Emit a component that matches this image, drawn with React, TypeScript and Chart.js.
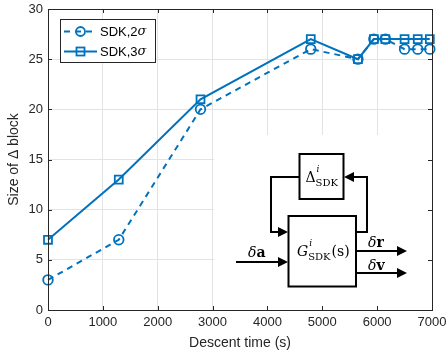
import { useEffect, useRef } from "react";
import { Chart, registerables } from "chart.js";

Chart.register(...registerables);

const descentTime = [0, 1290, 2780, 4790, 5650, 5940, 6150, 6500, 6740, 6960];
const size2Sigma = [3, 7, 20, 26, 25, 27, 27, 26, 26, 26];
const size3Sigma = [7, 13, 21, 27, 25, 27, 27, 27, 27, 27];
const xTicks = [0, 1000, 2000, 3000, 4000, 5000, 6000, 7000];
const yTicks = [0, 5, 10, 15, 20, 25, 30];
const seriesNames = ["SDK,2", "SDK,3"];

const BLUE = "#0072BD";
const AXIS = "#262626";
const SANS = "'Liberation Sans', Arial, Helvetica, sans-serif";
const SERIF = "'DejaVu Serif', 'Liberation Serif', serif";

type Piece = { t: string; f: string; dy?: number };

function rich(ctx: CanvasRenderingContext2D, x: number, y: number, pieces: Piece[]) {
  let cx = x;
  for (const p of pieces) {
    ctx.font = p.f;
    ctx.fillText(p.t, cx, y + (p.dy || 0));
    cx += ctx.measureText(p.t).width;
  }
  return cx;
}

function richWidth(ctx: CanvasRenderingContext2D, pieces: Piece[]) {
  let w = 0;
  for (const p of pieces) {
    ctx.font = p.f;
    w += ctx.measureText(p.t).width;
  }
  return w;
}

function arrow(ctx: CanvasRenderingContext2D, pts: number[][], len = 10, hw = 5) {
  const n = pts.length;
  const [tx, ty] = pts[n - 1];
  const [px, py] = pts[n - 2];
  const dx = tx - px, dy = ty - py;
  const d = Math.hypot(dx, dy);
  const ux = dx / d, uy = dy / d;
  const bx = tx - ux * len, by = ty - uy * len;
  ctx.beginPath();
  ctx.moveTo(pts[0][0], pts[0][1]);
  for (let i = 1; i < n - 1; i++) ctx.lineTo(pts[i][0], pts[i][1]);
  ctx.lineTo(bx, by);
  ctx.stroke();
  ctx.beginPath();
  ctx.moveTo(tx, ty);
  ctx.lineTo(bx - uy * hw, by + ux * hw);
  ctx.lineTo(bx + uy * hw, by - ux * hw);
  ctx.closePath();
  ctx.fill();
}

const framePlugin = {
  id: "frameAndInset",
  beforeDatasetsDraw(chart: any) {
    const { ctx, chartArea } = chart;
    ctx.save();
    ctx.fillStyle = "#ffffff";
    ctx.fillRect(214, 135, chartArea.right - 214, chartArea.bottom - 135);
    ctx.restore();
  },
  afterDraw(chart: any) {
    const { ctx, chartArea, scales } = chart;
    const { left, right, top, bottom } = chartArea;
    ctx.save();
    // frame
    ctx.strokeStyle = AXIS;
    ctx.lineWidth = 1;
    ctx.strokeRect(Math.round(left) + 0.5, Math.round(top) + 0.5, Math.round(right - left), Math.round(bottom - top));
    // inner ticks
    const tl = 4;
    ctx.beginPath();
    for (const v of xTicks) {
      const x = Math.round(scales.x.getPixelForValue(v)) + 0.5;
      ctx.moveTo(x, bottom);
      ctx.lineTo(x, bottom - tl);
      ctx.moveTo(x, top);
      ctx.lineTo(x, top + tl);
    }
    for (const v of yTicks) {
      const y = Math.round(scales.y.getPixelForValue(v)) + 0.5;
      ctx.moveTo(left, y);
      ctx.lineTo(left + tl, y);
      ctx.moveTo(right, y);
      ctx.lineTo(right - tl, y);
    }
    ctx.stroke();

    // legend
    const lx = 60.5, ly = 19.5, lw = 95, lh = 43;
    ctx.fillStyle = "#fff";
    ctx.fillRect(lx, ly, lw, lh);
    ctx.strokeStyle = AXIS;
    ctx.strokeRect(lx, ly, lw, lh);
    const rows = [31.5, 51.5];
    ctx.strokeStyle = BLUE;
    ctx.lineWidth = 2;
    ctx.setLineDash([6, 5]);
    ctx.beginPath();
    ctx.moveTo(64, rows[0]);
    ctx.lineTo(97, rows[0]);
    ctx.stroke();
    ctx.setLineDash([]);
    ctx.lineWidth = 1.8;
    ctx.beginPath();
    ctx.arc(80.5, rows[0], 4.5, 0, Math.PI * 2);
    ctx.stroke();
    ctx.lineWidth = 2;
    ctx.beginPath();
    ctx.moveTo(64, rows[1]);
    ctx.lineTo(97, rows[1]);
    ctx.stroke();
    ctx.lineWidth = 1.8;
    ctx.strokeRect(76.5, rows[1] - 4, 8, 8);
    ctx.fillStyle = "#000";
    ctx.textBaseline = "middle";
    ctx.textAlign = "left";
    for (let i = 0; i < 2; i++) {
      rich(ctx, 100, rows[i] + 0.5, [
        { t: seriesNames[i], f: `13px ${SANS}` },
        { t: "σ", f: `italic 13px ${SERIF}` },
      ]);
    }

    // block diagram inset
    ctx.strokeStyle = "#000";
    ctx.fillStyle = "#000";
    ctx.lineWidth = 2;
    ctx.strokeRect(299.5, 154, 44, 45);
    ctx.strokeRect(288.5, 216, 67.5, 70.5);
    arrow(ctx, [[299, 177], [271, 177], [271, 232], [288, 232]]);
    arrow(ctx, [[356, 232], [367, 232], [367, 177], [344, 177]]);
    arrow(ctx, [[236, 262], [288, 262]]);
    arrow(ctx, [[356, 251], [407, 251]]);
    arrow(ctx, [[356, 273], [407, 273]]);

    ctx.textBaseline = "alphabetic";
    const dPieces: Piece[] = [{ t: "Δ", f: `14px ${SERIF}` }];
    const wD = richWidth(ctx, dPieces);
    const dx0 = 321.5 - (wD + 22) / 2;
    rich(ctx, dx0, 182, dPieces);
    ctx.font = `italic 9px ${SERIF}`;
    ctx.fillText("i", dx0 + wD + 1, 172);
    ctx.font = `10px ${SERIF}`;
    ctx.fillText("SDK", dx0 + wD, 186);

    const gx0 = 297;
    ctx.font = `italic 14px ${SERIF}`;
    ctx.fillText("G", gx0, 256);
    const wG = ctx.measureText("G").width;
    ctx.font = `italic 9px ${SERIF}`;
    ctx.fillText("i", gx0 + wG + 1, 246);
    ctx.font = `10px ${SERIF}`;
    ctx.fillText("SDK", gx0 + wG, 260);
    const wS = ctx.measureText("SDK").width;
    ctx.font = `14px ${SERIF}`;
    ctx.fillText("(s)", gx0 + wG + wS + 1, 256);

    rich(ctx, 248, 257, [
      { t: "δ", f: `italic 14px ${SERIF}` },
      { t: "a", f: `bold 14px ${SERIF}` },
    ]);
    rich(ctx, 368, 247, [
      { t: "δ", f: `italic 14px ${SERIF}` },
      { t: "r", f: `bold 14px ${SERIF}` },
    ]);
    rich(ctx, 368, 270, [
      { t: "δ", f: `italic 14px ${SERIF}` },
      { t: "v", f: `bold 14px ${SERIF}` },
    ]);
    ctx.restore();
  },
};

export default function App() {
  const ref = useRef<HTMLCanvasElement>(null);
  useEffect(() => {
    document.body.style.margin = "0";
    const canvas = ref.current!;
    const chart = new Chart(canvas, {
      type: "line",
      data: {
        datasets: [
          {
            label: seriesNames[0] + "σ",
            data: descentTime.map((x, i) => ({ x, y: size2Sigma[i] })),
            borderColor: BLUE,
            borderWidth: 2,
            borderDash: [6, 5],
            pointStyle: "circle",
            pointRadius: 4.8,
            pointBorderWidth: 1.8,
            pointBorderColor: BLUE,
            pointBackgroundColor: "rgba(0,0,0,0)",
            tension: 0,
            clip: false as any,
          },
          {
            label: seriesNames[1] + "σ",
            data: descentTime.map((x, i) => ({ x, y: size3Sigma[i] })),
            borderColor: BLUE,
            borderWidth: 2,
            pointStyle: "rect",
            pointRadius: 5.6,
            pointBorderWidth: 1.8,
            pointBorderColor: BLUE,
            pointBackgroundColor: "rgba(0,0,0,0)",
            tension: 0,
            clip: false as any,
          },
        ],
      },
      options: {
        responsive: false,
        animation: false,
        events: [],
        layout: { padding: { top: 9, right: 15, left: 0, bottom: 0 } },
        plugins: { legend: { display: false }, tooltip: { enabled: false } },
        scales: {
          x: {
            type: "linear",
            min: 0,
            max: 7000,
            afterBuildTicks: (s: any) => {
              s.ticks = xTicks.map((v) => ({ value: v }));
            },
            afterFit: (s: any) => {
              s.height = 46;
              s.paddingLeft = 0;
              s.paddingRight = 0;
            },
            grid: { color: "#e3e3e3", lineWidth: 1, drawTicks: false },
            border: { display: true, color: AXIS, width: 1 },
            ticks: {
              color: AXIS,
              font: { family: SANS, size: 13 },
              padding: 5,
              maxRotation: 0,
              autoSkip: false,
              callback: (v: any) => String(v),
            },
            title: {
              display: true,
              text: "Descent time (s)",
              color: AXIS,
              font: { family: SANS, size: 14 },
              padding: { top: 0, bottom: 4 },
            },
          },
          y: {
            type: "linear",
            min: 0,
            max: 30,
            afterBuildTicks: (s: any) => {
              s.ticks = yTicks.map((v) => ({ value: v }));
            },
            afterFit: (s: any) => {
              s.width = 48;
              s.paddingTop = 0;
              s.paddingBottom = 0;
            },
            grid: { color: "#e3e3e3", lineWidth: 1, drawTicks: false },
            border: { display: true, color: AXIS, width: 1 },
            ticks: {
              color: AXIS,
              font: { family: SANS, size: 13 },
              padding: 5,
              autoSkip: false,
              callback: (v: any) => String(v),
            },
            title: {
              display: true,
              text: "Size of Δ block",
              color: AXIS,
              font: { family: SANS, size: 14 },
              padding: { top: 6, bottom: 0 },
            },
          },
        },
      },
      plugins: [framePlugin],
    });
    return () => chart.destroy();
  }, []);
  return (
    <div style={{ position: "fixed", left: 0, top: 0, width: 447, height: 356 }}>
      <canvas ref={ref} width={447} height={356} style={{ display: "block" }} />
    </div>
  );
}
